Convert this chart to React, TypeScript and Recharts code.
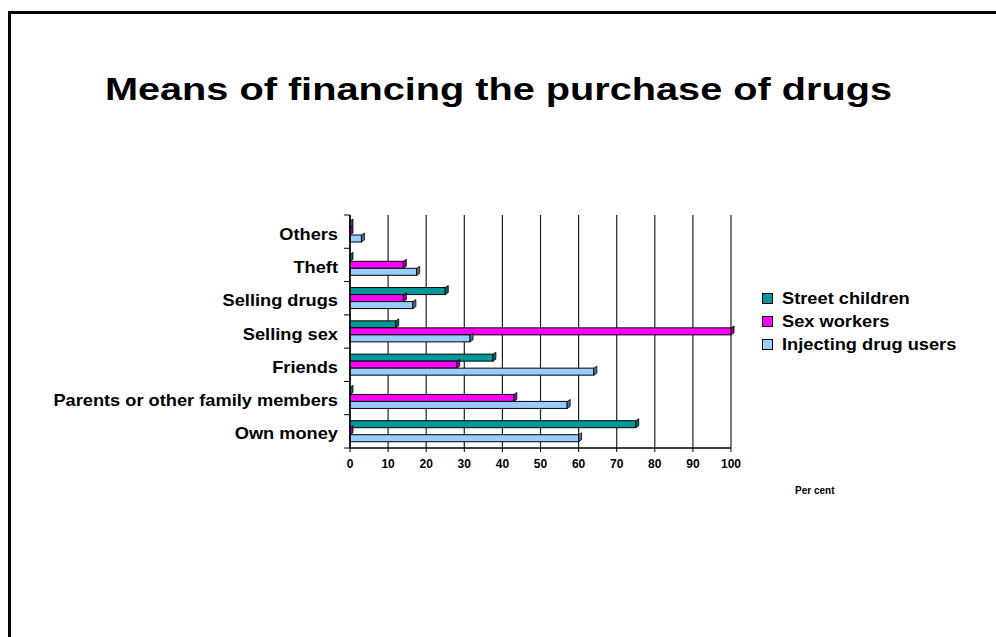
import React from 'react';
import { BarChart, Bar, XAxis, YAxis, CartesianGrid } from 'recharts';

const categories = [
  'Others',
  'Theft',
  'Selling drugs',
  'Selling sex',
  'Friends',
  'Parents or other family members',
  'Own money',
];
const streetChildren = [0, 0, 25, 12, 37.5, 0, 75];
const sexWorkers = [0, 14, 14, 100, 28, 43, 0];
const injectingUsers = [3, 17.5, 16.5, 31.5, 64, 57, 60];
const xTicks = [0, 10, 20, 30, 40, 50, 60, 70, 80, 90, 100];

const series = [
  { key: 'street', name: 'Street children', fill: '#009999', side: '#006666' },
  { key: 'sex', name: 'Sex workers', fill: '#FF00FF', side: '#990099' },
  { key: 'idu', name: 'Injecting drug users', fill: '#99CCFF', side: '#4F6F8F' },
];

const data = categories.map((c, i) => ({
  name: c,
  street: streetChildren[i],
  sex: sexWorkers[i],
  idu: injectingUsers[i],
}));

const FONT = '"Liberation Sans", Arial, Helvetica, sans-serif';
const AXIS_X = 350;
const PLOT_TOP = 215;
const PLOT_H = 233;

// bar with a small 3D end face
function Bar3D(props: any) {
  const { x, y, width, height, fill, side } = props;
  const w = Math.max(0, width || 0);
  const dx = 3;
  const dy = 2;
  const ex = x + w;
  return (
    <g>
      <rect x={x} y={y} width={w} height={height} fill={fill} stroke="#000" strokeWidth={1} />
      <path
        d={`M${ex},${y} L${ex + dx},${y - dy} L${ex + dx},${y + height - dy} L${ex},${y + height} Z`}
        fill={side}
        stroke="#000"
        strokeWidth={0.8}
      />
    </g>
  );
}

function CategoryTick(props: any) {
  const { y, payload, index } = props;
  const band = PLOT_H / categories.length;
  const top = y - band / 2;
  return (
    <g>
      <line x1={AXIS_X - 6} x2={AXIS_X} y1={top} y2={top} stroke="#000" strokeWidth={1} />
      {index === categories.length - 1 && (
        <line x1={AXIS_X - 6} x2={AXIS_X} y1={y + band / 2} y2={y + band / 2} stroke="#000" strokeWidth={1} />
      )}
      <text
        transform={`translate(338,${y + 8}) scale(1.14,1)`}
        textAnchor="end"
        fontFamily={FONT}
        fontWeight="bold"
        fontSize={16}
        fill="#000"
      >
        {payload.value}
      </text>
    </g>
  );
}

function LegendBox() {
  return (
    <div
      style={{
        position: 'absolute',
        left: 762,
        top: 287,
        fontFamily: FONT,
        fontWeight: 'bold',
        fontSize: 16,
        color: '#000',
      }}
    >
      {series.map((s) => (
        <div key={s.key} style={{ display: 'flex', alignItems: 'center', height: 23 }}>
          <span
            style={{
              display: 'inline-block',
              width: 9,
              height: 9,
              background: s.fill,
              border: '1.5px solid #000',
              marginRight: 9,
            }}
          />
          <span
            style={{
              display: 'inline-block',
              transform: 'scaleX(1.14)',
              transformOrigin: 'left center',
              whiteSpace: 'nowrap',
            }}
          >
            {s.name}
          </span>
        </div>
      ))}
    </div>
  );
}

export default function App() {
  return (
    <div style={{ position: 'fixed', left: 0, top: 0, width: 996, height: 637, overflow: 'hidden', background: '#fff' }}>
      <div
        style={{
          position: 'absolute',
          left: 8,
          top: 11,
          width: 1200,
          height: 800,
          borderLeft: '3px solid #000',
          borderTop: '3px solid #000',
        }}
      />
      <div
        style={{
          position: 'absolute',
          left: 0,
          width: 996,
          top: 72,
          textAlign: 'center',
          fontFamily: FONT,
          fontWeight: 'bold',
          fontSize: 31,
          color: '#000',
        }}
      >
        <span style={{ display: 'inline-block', transform: 'scaleX(1.28)', whiteSpace: 'nowrap' }}>
          Means of financing the purchase of drugs
        </span>
      </div>
      <div style={{ position: 'absolute', left: 0, top: 0 }}>
        <BarChart
          width={996}
          height={637}
          data={data}
          layout="vertical"
          margin={{ top: PLOT_TOP, right: 265, bottom: 159, left: 0 }}
          barCategoryGap={6}
          barGap={0}
        >
          <CartesianGrid horizontal={false} vertical stroke="#222" strokeWidth={1.2} />
          <XAxis
            type="number"
            domain={[0, 100]}
            ticks={xTicks}
            interval={0}
            height={30}
            tickSize={4}
            tickMargin={7}
            axisLine={{ stroke: '#000', strokeWidth: 1.5 }}
            tickLine={{ stroke: '#000' }}
            tick={{ fill: '#000', fontSize: 12, fontWeight: 'bold', fontFamily: FONT }}
          />
          <XAxis
            xAxisId="top"
            orientation="top"
            type="number"
            domain={[0, 100]}
            height={0}
            tick={false}
            tickLine={false}
            axisLine={{ stroke: '#000', strokeWidth: 1 }}
          />
          <YAxis
            type="category"
            dataKey="name"
            width={AXIS_X}
            interval={0}
            tickLine={false}
            axisLine={{ stroke: '#000', strokeWidth: 1.5 }}
            tick={<CategoryTick />}
          />
          <YAxis
            yAxisId="right"
            orientation="right"
            type="category"
            dataKey="name"
            width={0}
            tick={false}
            tickLine={false}
            axisLine={{ stroke: '#000', strokeWidth: 1 }}
          />
          {series.map((s) => (
            <Bar
              key={s.key}
              dataKey={s.key}
              name={s.name}
              fill={s.fill}
              isAnimationActive={false}
              shape={(p: any) => <Bar3D {...p} fill={s.fill} side={s.side} />}
            />
          ))}
        </BarChart>
      </div>
      <LegendBox />
      <div
        style={{
          position: 'absolute',
          left: 795,
          top: 485,
          fontFamily: FONT,
          fontWeight: 'bold',
          fontSize: 10,
          color: '#000',
        }}
      >
        Per cent
      </div>
    </div>
  );
}
